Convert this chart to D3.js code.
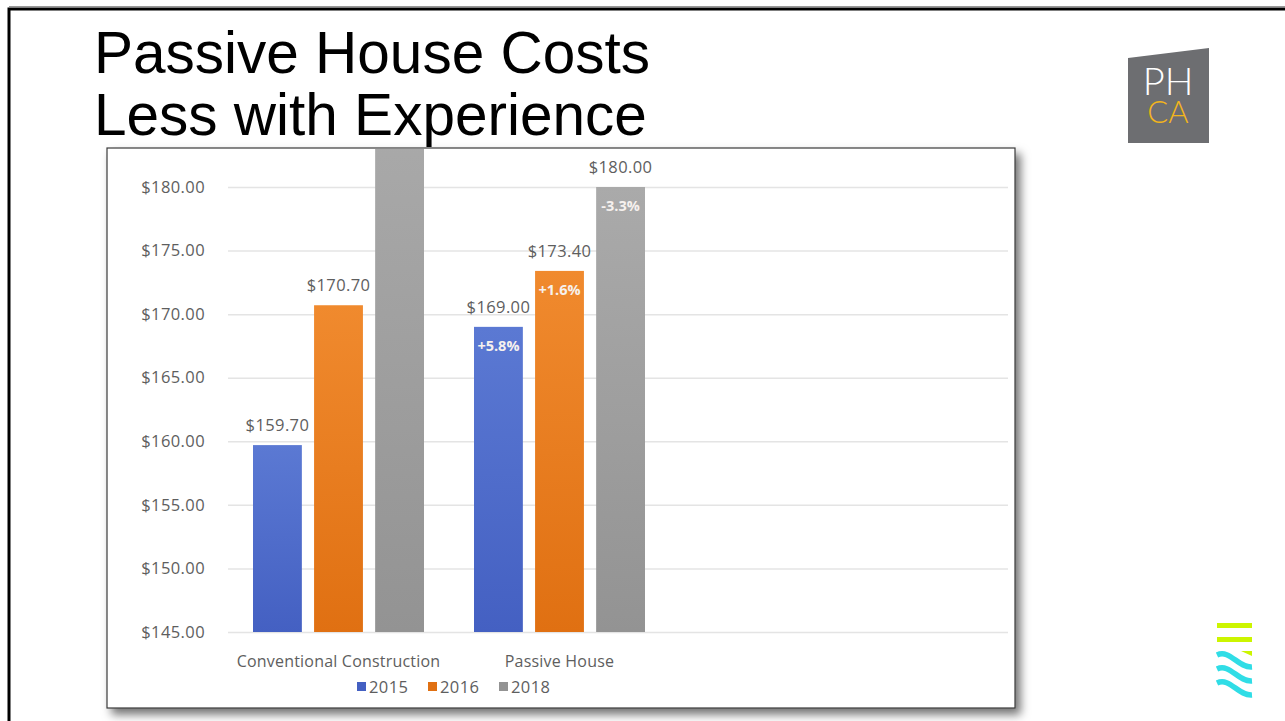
<!DOCTYPE html>
<html>
<head>
<meta charset="utf-8">
<script src="https://cdn.jsdelivr.net/npm/d3@7"></script>
<style>
  html, body { margin: 0; padding: 0; background: #fff; }
  svg { display: block; }
</style>
</head>
<body>
<svg id="slide" width="1285" height="721"></svg>
<script>
const categories = ["Conventional Construction", "Passive House"];
const years = ["2015", "2016", "2018"];
const conventionalCost = [159.7, 170.7, 186.1];
const passiveCost = [169.0, 173.4, 180.0];
const passiveChange = ["+5.8%", "+1.6%", "-3.3%"];
const yTickValues = [145, 150, 155, 160, 165, 170, 175, 180];

const colors = { "2015": ["#5b79d3", "#4460c2"], "2016": ["#f08a2e", "#e07012"], "2018": ["#aaaaaa", "#939393"] };
const textColor = "#5e5e5e";
const chartFont = "'Open Sans', 'Noto Sans', sans-serif";

const rows = [];
categories.forEach((c, i) => {
  const vals = i === 0 ? conventionalCost : passiveCost;
  years.forEach((y, j) => {
    rows.push({ category: c, year: y, value: vals[j], change: i === 1 ? passiveChange[j] : null });
  });
});

const svg = d3.select("#slide");
const defs = svg.append("defs");

defs.append("filter")
  .attr("id", "shadow")
  .attr("x", "-5%").attr("y", "-5%").attr("width", "115%").attr("height", "115%")
  .append("feDropShadow")
  .attr("dx", 5).attr("dy", 6).attr("stdDeviation", 5)
  .attr("flood-color", "#000").attr("flood-opacity", 0.55);

years.forEach(y => {
  const g = defs.append("linearGradient")
    .attr("id", "grad" + y)
    .attr("x1", 0).attr("y1", 0).attr("x2", 0).attr("y2", 1);
  g.append("stop").attr("offset", "0%").attr("stop-color", colors[y][0]);
  g.append("stop").attr("offset", "100%").attr("stop-color", colors[y][1]);
});

// slide frame
svg.append("line")
  .attr("x1", 9).attr("x2", 1285).attr("y1", 6.5).attr("y2", 6.5)
  .attr("stroke", "#999").attr("stroke-width", 1);
svg.append("path")
  .attr("d", "M9,721 V9 H1290")
  .attr("fill", "none").attr("stroke", "#000").attr("stroke-width", 3);

// title
const titleFont = "'Liberation Sans', Arial, sans-serif";
svg.append("text")
  .attr("x", 94).attr("y", 73)
  .attr("font-family", titleFont)
  .attr("font-size", 58.5)
  .attr("fill", "#000")
  .text("Passive House Costs");
svg.append("text")
  .attr("x", 94).attr("y", 135)
  .attr("font-family", titleFont)
  .attr("font-size", 58.5)
  .attr("fill", "#000")
  .text("Less with Experience");

// PHCA logo
const logo = svg.append("g");
logo.append("path")
  .attr("d", "M1128,58 L1209,48 L1209,143 L1128,143 Z")
  .attr("fill", "#6d6e71");
logo.append("text")
  .attr("x", 1168).attr("y", 95)
  .attr("text-anchor", "middle")
  .attr("font-family", "Lato, 'Open Sans', sans-serif")
  .attr("font-weight", 300)
  .attr("font-size", 38)
  .attr("fill", "#fff")
  .text("PH");
logo.append("text")
  .attr("x", 1168).attr("y", 123)
  .attr("text-anchor", "middle")
  .attr("font-family", "Lato, 'Open Sans', sans-serif")
  .attr("font-weight", 300)
  .attr("font-size", 31)
  .attr("fill", "#f2b51c")
  .text("CA");

// bottom-right mark
const mark = svg.append("g");
[625.5, 639.5].forEach(y => {
  mark.append("line")
    .attr("x1", 1217).attr("x2", 1252).attr("y1", y).attr("y2", y)
    .attr("stroke", "#ccf500").attr("stroke-width", 5);
});
mark.append("path")
  .attr("d", "M1241,651 L1252,651 L1252,656 Z")
  .attr("fill", "#ccf500");
[0, 14, 28].forEach(dy => {
  mark.append("path")
    .attr("d", `M1217,${655 + dy} C1230,${649 + dy} 1238,${668 + dy} 1252,${667 + dy}`)
    .attr("fill", "none")
    .attr("stroke", "#30dde6").attr("stroke-width", 5.5);
});

// chart frame
const frame = { x: 107, y: 148, w: 908, h: 560 };
svg.append("rect")
  .attr("x", frame.x).attr("y", frame.y)
  .attr("width", frame.w).attr("height", frame.h)
  .attr("fill", "#fff")
  .attr("stroke", "#3a3a3a").attr("stroke-width", 1.2)
  .attr("filter", "url(#shadow)");

defs.append("clipPath").attr("id", "frameClip")
  .append("rect")
  .attr("x", frame.x + 1).attr("y", frame.y + 1)
  .attr("width", frame.w - 2).attr("height", frame.h - 2);

const plot = { left: 228, right: 1008, top: 187, bottom: 632 };

const y = d3.scaleLinear()
  .domain([145, 180])
  .range([plot.bottom, plot.top]);

const x0 = d3.scaleBand()
  .domain(categories)
  .range([plot.left, plot.left + 442])
  .padding(0);

const x1 = d3.scaleBand()
  .domain(years)
  .range([25, 196])
  .paddingInner(0.2)
  .paddingOuter(0);

const chart = svg.append("g").attr("clip-path", "url(#frameClip)");

// gridlines + y labels
const yAxis = chart.append("g")
  .attr("transform", `translate(${plot.left},0)`)
  .call(d3.axisLeft(y)
    .tickValues(yTickValues)
    .tickSize(-(plot.right - plot.left))
    .tickPadding(23)
    .tickFormat(d => "$" + d3.format(".2f")(d)));
yAxis.select(".domain").remove();
yAxis.selectAll(".tick line").attr("stroke", "#e4e4e4").attr("stroke-width", 1.5);
yAxis.selectAll(".tick text")
  .attr("fill", textColor)
  .attr("font-family", chartFont)
  .attr("font-size", 16.5)
  .attr("letter-spacing", 0.4);

// bars
chart.selectAll(".bar")
  .data(rows)
  .enter().append("rect")
  .attr("class", "bar")
  .attr("x", d => x0(d.category) + x1(d.year))
  .attr("width", x1.bandwidth())
  .attr("y", d => y(d.value))
  .attr("height", d => plot.bottom - y(d.value))
  .attr("fill", d => `url(#grad${d.year})`);

// value labels
chart.selectAll(".value-label")
  .data(rows)
  .enter().append("text")
  .attr("class", "value-label")
  .attr("x", d => x0(d.category) + x1(d.year) + x1.bandwidth() / 2)
  .attr("y", d => y(d.value) - 14)
  .attr("text-anchor", "middle")
  .attr("fill", textColor)
  .attr("font-family", chartFont)
  .attr("font-size", 16.5)
  .attr("letter-spacing", 0.4)
  .text(d => "$" + d3.format(".2f")(d.value));

// change labels inside bars
chart.selectAll(".change-label")
  .data(rows.filter(d => d.change))
  .enter().append("text")
  .attr("class", "change-label")
  .attr("x", d => x0(d.category) + x1(d.year) + x1.bandwidth() / 2)
  .attr("y", d => y(d.value) + 24)
  .attr("text-anchor", "middle")
  .attr("fill", "#f6f1ee")
  .attr("font-family", chartFont)
  .attr("font-weight", 700)
  .attr("font-size", 14.5)
  .text(d => d.change);

// category axis labels
chart.selectAll(".cat-label")
  .data(categories)
  .enter().append("text")
  .attr("class", "cat-label")
  .attr("x", d => x0(d) + x0.bandwidth() / 2)
  .attr("y", 667)
  .attr("text-anchor", "middle")
  .attr("fill", textColor)
  .attr("font-family", chartFont)
  .attr("font-size", 16)
  .attr("letter-spacing", 0.2)
  .text(d => d);

// legend
const legendX = d3.scalePoint()
  .domain(years)
  .range([357, 499]);

const legend = chart.selectAll(".legend")
  .data(years)
  .enter().append("g")
  .attr("class", "legend")
  .attr("transform", d => `translate(${legendX(d)},687)`);
legend.append("rect")
  .attr("x", 0).attr("y", -5)
  .attr("width", 9).attr("height", 9)
  .attr("fill", d => colors[d][1]);
legend.append("text")
  .attr("x", 12).attr("y", 6)
  .attr("fill", textColor)
  .attr("font-family", chartFont)
  .attr("font-size", 16.5)
  .attr("letter-spacing", 0.4)
  .text(d => d);
</script>
</body>
</html>
